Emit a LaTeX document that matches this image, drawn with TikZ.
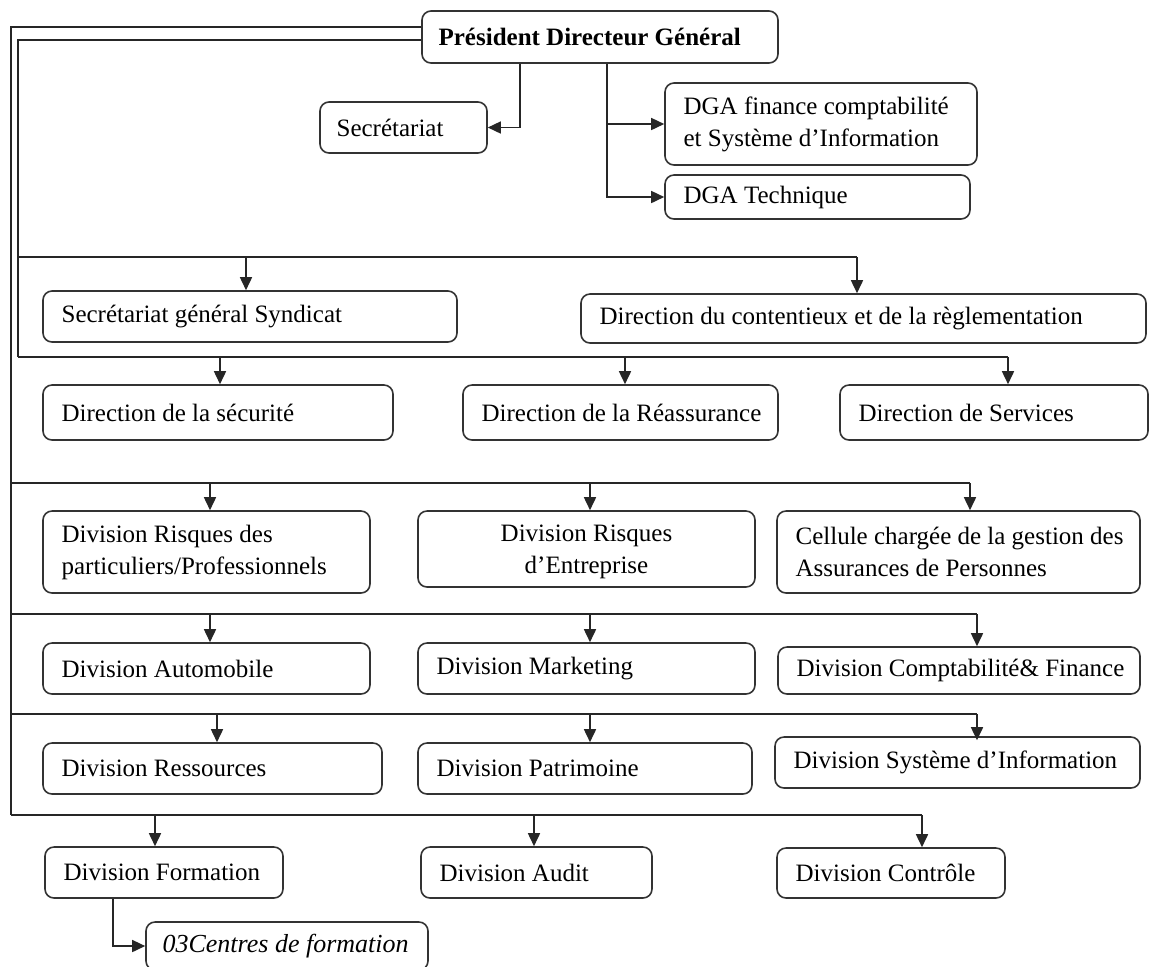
\documentclass[tikz,border=0pt]{standalone}
\usepackage{fontspec}
\setmainfont{Liberation Serif}
\usetikzlibrary{arrows.meta,fit,calc}
\tikzset{
  ln/.style={draw=black!85, line width=0.8pt},
  arr/.style={ln, -{Triangle[length=6.5pt,width=6pt]}},
  box/.style={draw=black!80, line width=0.8pt, rounded corners=4.5pt, inner sep=0pt},
  lbl/.style={font=\fontsize{12.5}{16}\selectfont, inner sep=0pt, anchor=west, align=left},
}
\newcommand\obox[7][9.5pt]{%
  \coordinate (#2-a) at (#3,#4);
  \coordinate (#2-b) at (#5,#6);
  \node[box, fit=(#2-a)(#2-b)] (#2) {};
  \node[lbl] (#2-t) at ([xshift=#1]#2.west) {#7};}
\begin{document}
\begin{tikzpicture}[x=0.5pt,y=-0.5pt]
\useasboundingbox (0,0) rectangle (1155,966);
\clip (0,0) rectangle (1155,966);
% boxes
\obox[8.5pt]{pdg}{422}{11}{778}{63}{\textbf{Président Directeur Général}}
\obox[8.5pt]{sec}{320}{102}{487}{153}{Secrétariat}
\obox{dgaf}{665}{83}{977}{165}{DGA finance comptabilité\\et Système d’Information}
\obox{dgat}{665}{175}{970}{219}{DGA Technique}
\obox{synd}{43}{291}{457}{342}{Secrétariat général Syndicat}
\obox{cont}{581}{294}{1146}{343}{Direction du contentieux et de la règlementation}
\obox{secu}{43}{385}{393}{440}{Direction de la sécurité}
\obox{reas}{463}{385}{778}{440}{Direction de la Réassurance}
\obox{serv}{840}{385}{1148}{440}{Direction de Services}
\obox{risp}{43}{511}{370}{593}{Division Risques des\\particuliers/Professionnels}
\coordinate (rise-a) at (418,511);
\coordinate (rise-b) at (755,587);
\node[box, fit=(rise-a)(rise-b)] (rise) {};
\node[lbl, anchor=center, align=center] (rise-t) at ([yshift=-1.5pt]rise.center) {Division Risques\\d’Entreprise};
\obox{cell}{777}{511}{1140}{593}{Cellule chargée de la gestion des\\Assurances de Personnes}
\obox{auto}{43}{643}{370}{694}{Division Automobile}
\obox{mark}{418}{643}{755}{694}{Division Marketing}
\obox{comp}{778}{647}{1140}{694}{Division Comptabilité\& Finance}
\obox{ress}{43}{743}{382}{794}{Division Ressources}
\obox{patr}{418}{743}{752}{794}{Division Patrimoine}
\obox{syst}{775}{737}{1140}{788}{Division Système d’Information}
\obox{form}{45}{847}{283}{898}{Division Formation}
\obox{audi}{421}{847}{652}{898}{Division Audit}
\obox{cont2}{777}{848}{1005}{898}{Division Contrôle}
\obox[8.5pt]{cent}{146}{922}{428}{970}{\fontsize{13}{16}\selectfont\itshape 03Centres de formation}
% PDG direct links
\draw[arr] ([xshift=49.5pt]pdg.south west) |- (sec.east);
\coordinate (pdgR) at ([xshift=93pt]pdg.south west);
\draw[arr] (pdgR) |- (dgaf.west);
\draw[arr] (pdgR) |- (dgat.west);
% trunks
\coordinate (oTop) at (11,27);
\coordinate (oBot) at (11,815);
\coordinate (iTop) at (18,40);
\coordinate (iBot) at (18,357);
\draw[ln] ([yshift=5pt]pdg.west) -- (oTop) -- (oBot);
\draw[ln] ([yshift=-1.5pt]pdg.west) -- (iTop) -- (iBot);
% bus A
\coordinate (bA) at (18,257);
\coordinate (tA1) at (246,257);
\coordinate (tA2) at (857,257);
\draw[ln] (bA) -- (tA2);
\draw[arr] (tA1) -- (tA1 |- synd.north);
\draw[arr] (tA2) -- (tA2 |- cont.north);
% bus B
\coordinate (tB1) at (220,357);
\coordinate (tB2) at (625,357);
\coordinate (tB3) at (1008,357);
\draw[ln] (iBot) -- (tB3);
\draw[arr] (tB1) -- (tB1 |- secu.north);
\draw[arr] (tB2) -- (tB2 |- reas.north);
\draw[arr] (tB3) -- (tB3 |- serv.north);
% bus C
\coordinate (bC) at (11,483);
\coordinate (tC1) at (210,483);
\coordinate (tC2) at (590,483);
\coordinate (tC3) at (970,483);
\draw[ln] (bC) -- (tC3);
\draw[arr] (tC1) -- (tC1 |- risp.north);
\draw[arr] (tC2) -- (tC2 |- rise.north);
\draw[arr] (tC3) -- (tC3 |- cell.north);
% bus D
\coordinate (bD) at (11,614);
\coordinate (tD1) at (210,614);
\coordinate (tD2) at (590,614);
\coordinate (tD3) at (977,614);
\draw[ln] (bD) -- (tD3);
\draw[arr] (tD1) -- (tD1 |- auto.north);
\draw[arr] (tD2) -- (tD2 |- mark.north);
\draw[arr] (tD3) -- (tD3 |- comp.north);
% bus E
\coordinate (bE) at (11,714);
\coordinate (tE1) at (217,714);
\coordinate (tE2) at (590,714);
\coordinate (tE3) at (977,714);
\draw[ln] (bE) -- (tE3);
\draw[arr] (tE1) -- (tE1 |- ress.north);
\draw[arr] (tE2) -- (tE2 |- patr.north);
\draw[arr] (tE3) -- ([yshift=-2pt]tE3 |- syst.north);
% bus F
\coordinate (tF1) at (155,815);
\coordinate (tF2) at (534,815);
\coordinate (tF3) at (922,815);
\draw[ln] (oBot) -- (tF3);
\draw[arr] (tF1) -- (tF1 |- form.north);
\draw[arr] (tF2) -- (tF2 |- audi.north);
\draw[arr] (tF3) -- (tF3 |- cont2.north);
% formation centres
\draw[arr] ([xshift=34.5pt]form.south west) |- (cent.west);
\end{tikzpicture}
\end{document}
